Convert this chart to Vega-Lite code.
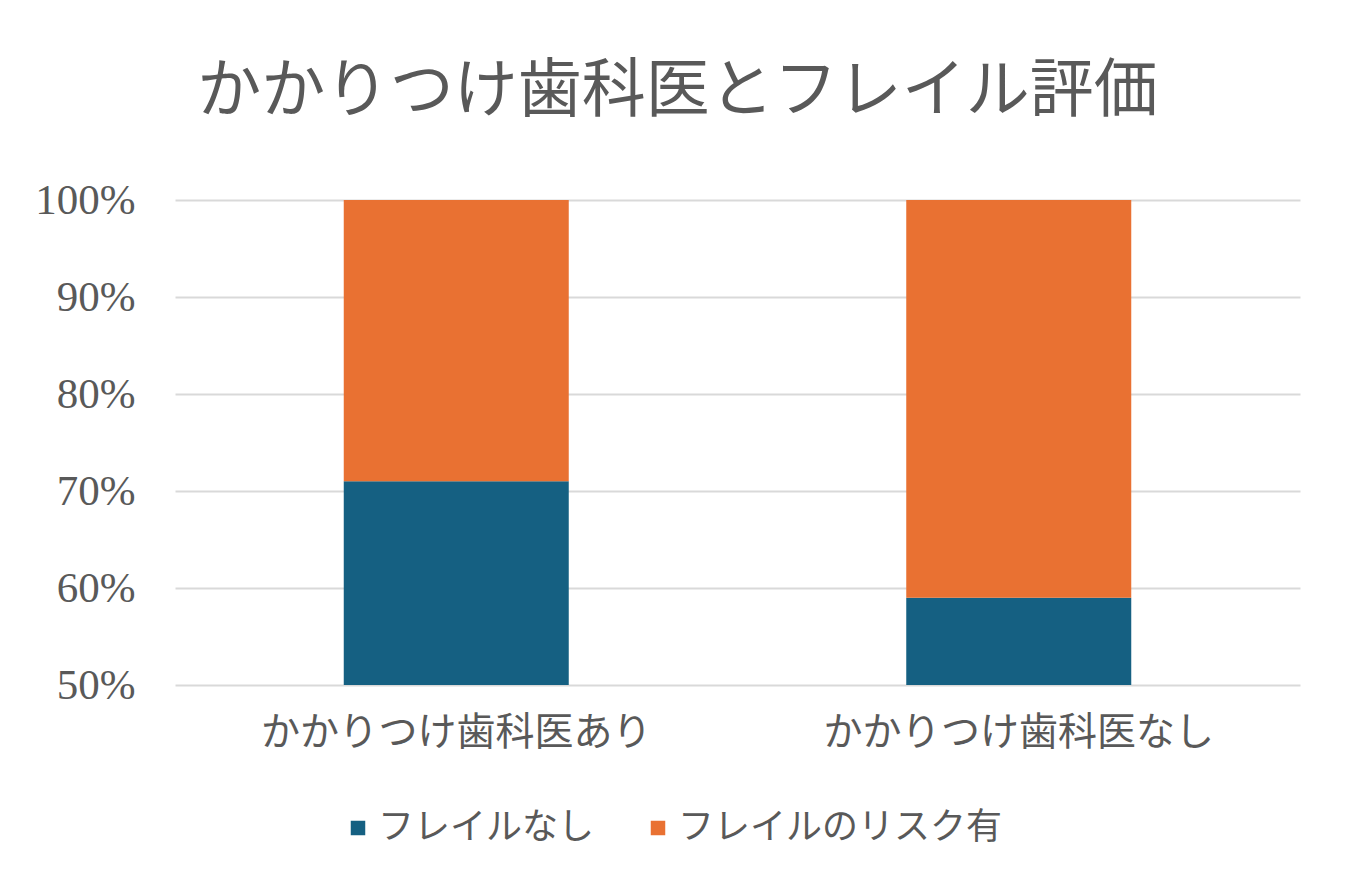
{
  "$schema": "https://vega.github.io/schema/vega-lite/v6.json",
  "autosize": "none",
  "width": 1125,
  "height": 485,
  "padding": {"left": 175, "top": 200, "right": 53, "bottom": 205},
  "background": "white",
  "title": {
    "text": "かかりつけ歯科医とフレイル評価",
    "font": "Noto Sans CJK JP",
    "fontSize": 64,
    "fontWeight": "normal",
    "color": "#595959",
    "anchor": "middle",
    "frame": "group",
    "dx": -60,
    "offset": 55
  },
  "data": {
    "values": [
      {"category": "かかりつけ歯科医あり", "series": "フレイルなし", "value": 0.71},
      {"category": "かかりつけ歯科医あり", "series": "フレイルのリスク有", "value": 0.29},
      {"category": "かかりつけ歯科医なし", "series": "フレイルなし", "value": 0.59},
      {"category": "かかりつけ歯科医なし", "series": "フレイルのリスク有", "value": 0.41}
    ]
  },
  "mark": {"type": "bar", "clip": true},
  "encoding": {
    "x": {
      "field": "category",
      "type": "nominal",
      "title": null,
      "sort": null,
      "scale": {"paddingInner": 0.6, "paddingOuter": 0.3},
      "axis": {
        "labelAngle": 0,
        "labelFont": "Noto Sans CJK JP",
        "labelFontSize": 39,
        "labelColor": "#595959",
        "labelPadding": 28,
        "labelLimit": 0,
        "domain": false,
        "ticks": false
      }
    },
    "y": {
      "field": "value",
      "type": "quantitative",
      "stack": "zero",
      "title": null,
      "scale": {"domain": [0.5, 1], "nice": false, "zero": false},
      "axis": {
        "values": [0.5, 0.6, 0.7, 0.8, 0.9, 1.0],
        "format": ".0%",
        "labelFont": "Liberation Serif",
        "labelFontSize": 43,
        "labelColor": "#595959",
        "labelPadding": 40,
        "domain": false,
        "ticks": false,
        "grid": true,
        "gridColor": "#D9D9D9",
        "gridWidth": 2
      }
    },
    "color": {
      "field": "series",
      "type": "nominal",
      "scale": {
        "domain": ["フレイルなし", "フレイルのリスク有"],
        "range": ["#156082", "#E97132"]
      },
      "legend": {
        "title": null,
        "orient": "none",
        "direction": "horizontal",
        "legendX": 165,
        "legendY": 610,
        "symbolType": "square",
        "symbolSize": 210,
        "symbolStrokeWidth": 0,
        "labelFont": "Noto Sans CJK JP",
        "labelFontSize": 36,
        "labelColor": "#595959",
        "labelOffset": 2,
        "labelLimit": 0,
        "columnPadding": 45
      }
    },
    "order": {"field": "series", "sort": "ascending"}
  },
  "config": {
    "view": {"stroke": null}
  }
}
